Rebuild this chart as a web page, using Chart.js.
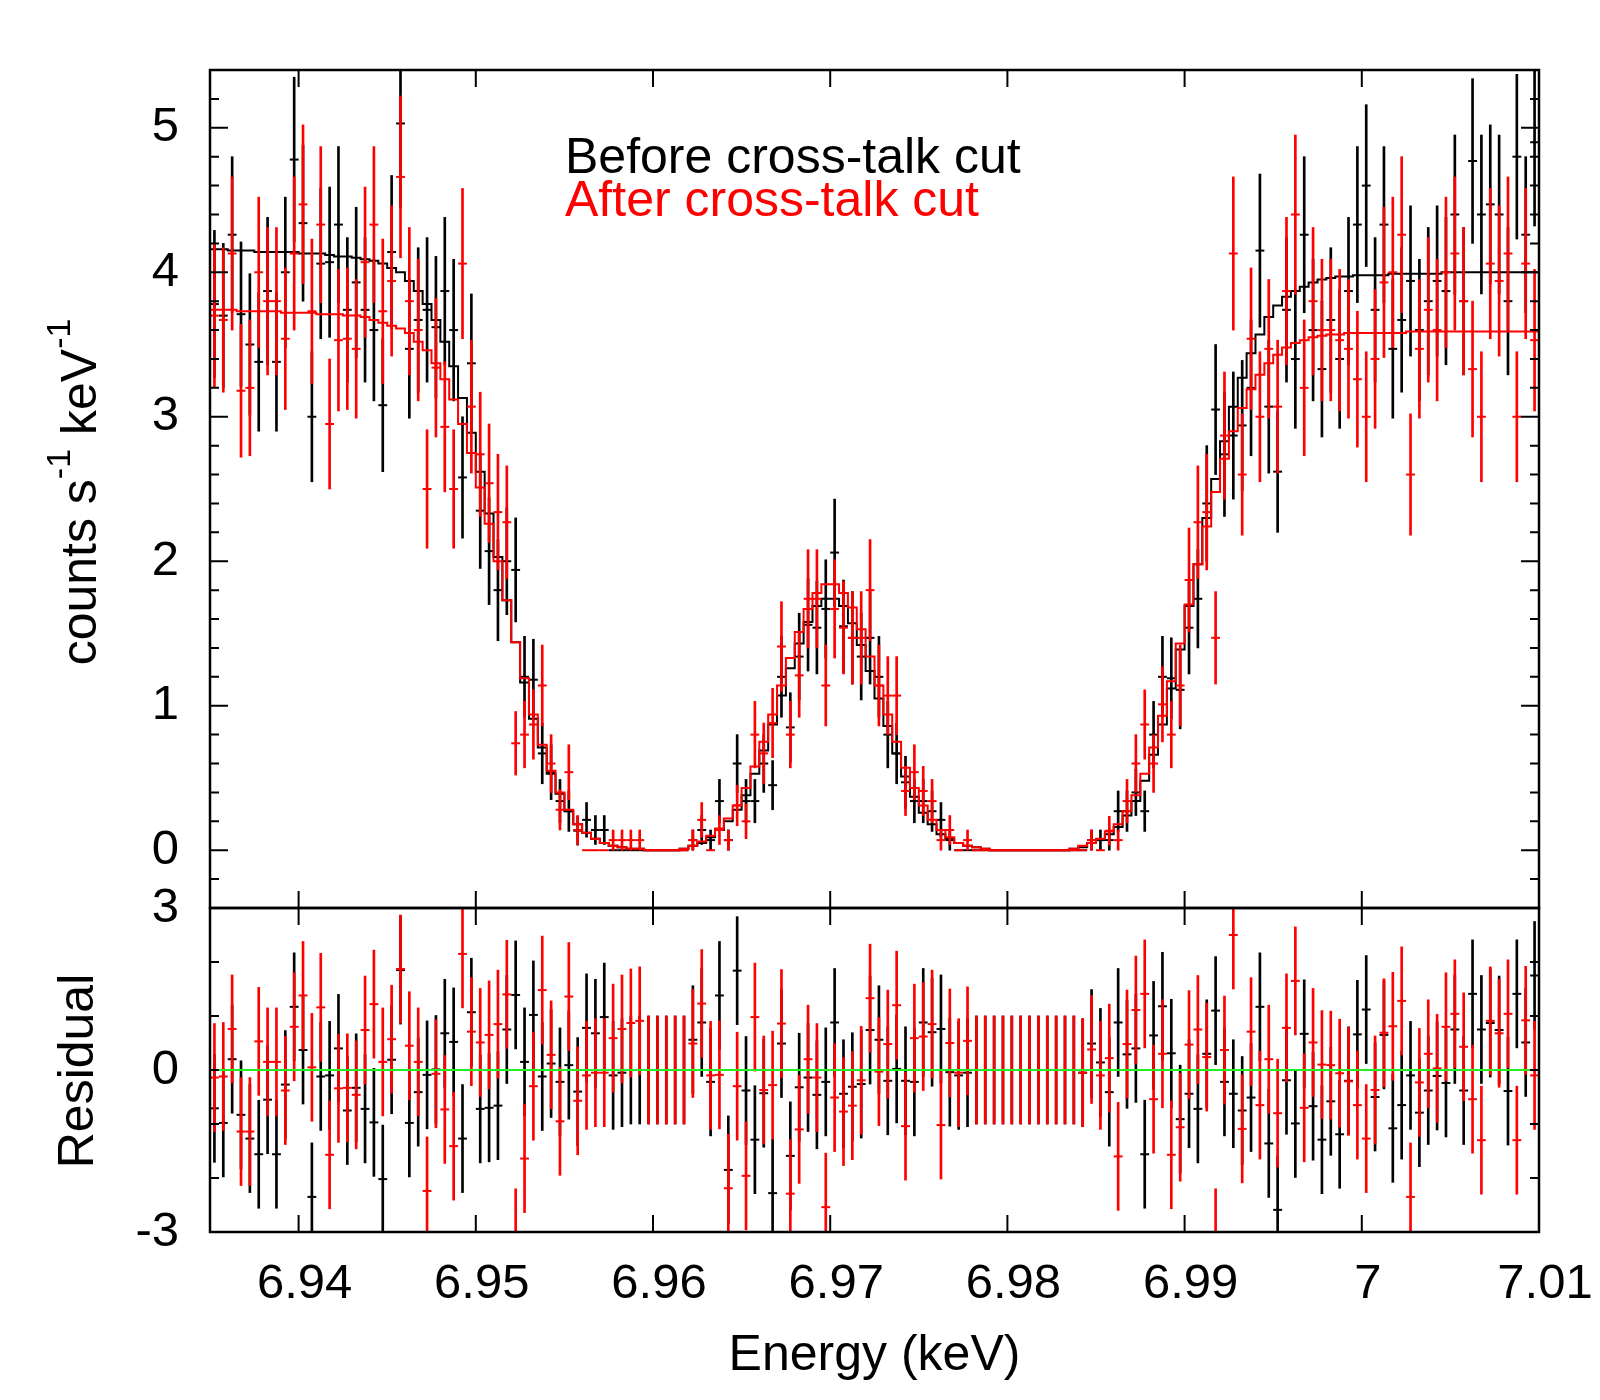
<!DOCTYPE html>
<html>
<head>
<meta charset="utf-8">
<script src="https://cdn.jsdelivr.net/npm/chart.js@4.4.1/dist/chart.umd.min.js"></script>
<style>
  html, body { margin: 0; padding: 0; background: #fff; }
  #wrap { position: relative; width: 1600px; height: 1400px; }
  #wrap canvas { position: absolute; left: 0; top: 0; }
</style>
</head>
<body>
<div id="wrap">
  <canvas id="resid" width="1600" height="1400"></canvas>
  <canvas id="main" width="1600" height="1400"></canvas>
</div>
<script>
// energy grid: 150 bins of 0.5 eV between 6.935 and 7.01 keV
const E_MIN = 6.935, E_MAX = 7.01, BIN_W = 0.0005;

const xTicks = [6.94, 6.95, 6.96, 6.97, 6.98, 6.99, 7.0, 7.01];
const xTickLabels = ["6.94", "6.95", "6.96", "6.97", "6.98", "6.99", "7", "7.01"];
const yMainLabels = [0, 1, 2, 3, 4, 5];
const yResLabels = [-3, 0, 3];

// model (step histogram), counts s-1 keV-1
const modelBefore = [
  4.16, 4.16, 4.15, 4.15, 4.15, 4.14, 4.14, 4.14, 4.14, 4.14,
  4.13, 4.13, 4.13, 4.12, 4.11, 4.11, 4.10, 4.09, 4.08, 4.06,
  4.03, 4.00, 3.94, 3.87, 3.78, 3.67, 3.52, 3.35, 3.13, 2.89,
  2.62, 2.33, 2.03, 1.73, 1.44, 1.16, 0.91, 0.71, 0.53, 0.39,
  0.27, 0.18, 0.12, 0.08, 0.05, 0.03, 0.02, 0.01, 0.01, 0,
  0, 0, 0, 0.01, 0.03, 0.05, 0.09, 0.14, 0.20, 0.28,
  0.38, 0.53, 0.69, 0.87, 1.07, 1.26, 1.43, 1.58, 1.69, 1.74,
  1.74, 1.69, 1.57, 1.42, 1.24, 1.05, 0.86, 0.67, 0.51, 0.37,
  0.26, 0.18, 0.11, 0.08, 0.05, 0.03, 0.02, 0.01, 0, 0,
  0, 0, 0, 0, 0, 0, 0, 0.01, 0.02, 0.05,
  0.07, 0.11, 0.16, 0.24, 0.34, 0.48, 0.66, 0.87, 1.12, 1.39,
  1.69, 1.98, 2.30, 2.57, 2.83, 3.07, 3.27, 3.44, 3.57, 3.69,
  3.77, 3.83, 3.87, 3.90, 3.93, 3.95, 3.96, 3.97, 3.97, 3.98,
  3.98, 3.98, 3.98, 3.99, 3.99, 3.99, 3.99, 3.99, 3.99, 4.00,
  4.00, 4.00, 4.00, 4.00, 4.00, 4.00, 4.00, 4.00, 4.00, 4.00
];
const modelAfter = [
  3.74, 3.74, 3.74, 3.73, 3.73, 3.73, 3.73, 3.73, 3.72, 3.72,
  3.72, 3.72, 3.71, 3.71, 3.71, 3.70, 3.70, 3.69, 3.67, 3.65,
  3.63, 3.61, 3.58, 3.52, 3.46, 3.37, 3.26, 3.12, 2.95, 2.75,
  2.51, 2.26, 2.00, 1.73, 1.44, 1.19, 0.94, 0.73, 0.55, 0.40,
  0.28, 0.18, 0.12, 0.08, 0.05, 0.03, 0.02, 0.01, 0.01, 0,
  0, 0, 0, 0.01, 0.03, 0.06, 0.10, 0.15, 0.22, 0.31,
  0.43, 0.58, 0.75, 0.94, 1.14, 1.33, 1.51, 1.67, 1.78, 1.84,
  1.84, 1.78, 1.68, 1.53, 1.34, 1.14, 0.94, 0.75, 0.57, 0.43,
  0.31, 0.21, 0.14, 0.09, 0.05, 0.03, 0.02, 0.01, 0, 0,
  0, 0, 0, 0, 0, 0, 0, 0.01, 0.03, 0.05,
  0.08, 0.13, 0.18, 0.27, 0.38, 0.53, 0.71, 0.93, 1.17, 1.43,
  1.70, 1.98, 2.24, 2.48, 2.71, 2.90, 3.06, 3.19, 3.29, 3.37,
  3.43, 3.48, 3.51, 3.53, 3.55, 3.56, 3.57, 3.57, 3.58, 3.58,
  3.58, 3.58, 3.58, 3.58, 3.58, 3.59, 3.59, 3.59, 3.59, 3.59,
  3.59, 3.59, 3.59, 3.59, 3.59, 3.59, 3.59, 3.59, 3.59, 3.59
];

// data points
const countsBefore = [
  3.78, 3.70, 4.26, 3.71, 3.50, 3.38, 3.87, 3.38, 4.00, 4.78,
  4.34, 3.00, 4.06, 4.07, 4.33, 3.74, 3.93, 3.74, 3.60, 3.08,
  4.14, 5.03, 3.47, 3.67, 3.74, 3.62, 3.87, 3.60, 2.58, 3.37,
  2.35, 2.07, 1.80, 2.00, 1.94, 1.20, 1.18, 0.67, 0.54, 0.34,
  0.27, 0.135, 0.21, 0.14, 0.14, 0, 0, 0, 0, 0,
  0, 0, 0, 0, 0.07, 0.14, 0.07, 0.34, 0.07, 0.60,
  0.34, 0.34, 0.60, 0.45, 1.20, 0.85, 1.34, 1.56, 1.54, 1.67,
  2.06, 1.55, 1.47, 1.34, 1.47, 1.20, 0.80, 0.67, 0.47, 0.34,
  0.34, 0.27, 0.21, 0.07, 0, 0, 0, 0, 0, 0,
  0, 0, 0, 0, 0, 0, 0, 0, 0, 0.07,
  0.07, 0.07, 0.27, 0.27, 0.40, 0.27, 0.80, 1.20, 1.19, 1.11,
  1.54, 1.74, 2.40, 3.05, 2.74, 2.87, 2.94, 3.20, 4.15, 3.07,
  2.62, 3.74, 3.40, 4.26, 3.60, 3.33, 3.67, 3.40, 3.87, 4.33,
  4.60, 3.74, 4.33, 3.47, 3.67, 3.94, 3.60, 3.80, 3.94, 3.87,
  4.40, 3.80, 4.77, 4.40, 4.47, 4.40, 3.80, 4.80, 4.26, 4.90
];
const countsAfter = [
  3.70, 3.67, 4.13, 3.18, 3.20, 4.00, 3.80, 3.80, 3.54, 4.13,
  4.47, 3.73, 4.33, 2.95, 3.53, 3.54, 3.47, 4.07, 4.33, 3.73,
  3.94, 4.66, 3.80, 3.60, 2.50, 3.34, 2.93, 2.50, 4.06, 3.07,
  2.74, 2.54, 2.34, 2.27, 0.74, 0.80, 0.87, 1.14, 0.60, 0.28,
  0.54, 0.14, 0, 0, 0, 0.07, 0.07, 0.07, 0.07, 0,
  0, 0, 0, 0, 0.07, 0.21, 0, 0.14, 0.07, 0.31,
  0.20, 0.80, 0.67, 0.88, 1.41, 0.80, 1.21, 1.74, 1.74, 1.14,
  1.67, 1.54, 1.47, 1.47, 1.80, 1.14, 1.07, 1.07, 0.41, 0.54,
  0.41, 0.34, 0.07, 0.14, 0, 0.07, 0, 0, 0, 0,
  0, 0, 0, 0, 0, 0, 0, 0, 0, 0.07,
  0, 0.135, 0.07, 0.34, 0.60, 0.87, 0.60, 1.01, 0.80, 1.14,
  1.87, 2.27, 2.34, 1.47, 2.87, 4.13, 2.60, 3.54, 3.00, 3.47,
  3.07, 3.87, 4.40, 3.20, 3.80, 3.60, 3.60, 3.53, 3.47, 3.26,
  3.00, 3.40, 3.93, 4.00, 4.26, 2.60, 3.47, 3.74, 3.60, 4.00,
  4.13, 3.80, 3.33, 3.00, 4.06, 3.94, 4.13, 3.00, 4.06, 3.53
];

// 1-sigma error bars
const errBefore = [
  0.51, 0.50, 0.54, 0.50, 0.49, 0.48, 0.51, 0.48, 0.52, 0.57,
  0.54, 0.45, 0.52, 0.52, 0.54, 0.50, 0.52, 0.50, 0.49, 0.46,
  0.53, 0.58, 0.48, 0.50, 0.50, 0.49, 0.51, 0.49, 0.42, 0.48,
  0.40, 0.37, 0.35, 0.37, 0.36, 0.28, 0.28, 0.21, 0.19, 0.15,
  0.14, 0.10, 0.12, 0.10, 0.10, 0, 0, 0, 0, 0,
  0, 0, 0, 0, 0.07, 0.10, 0.07, 0.15, 0.07, 0.20,
  0.15, 0.15, 0.20, 0.17, 0.28, 0.24, 0.30, 0.32, 0.32, 0.34,
  0.37, 0.32, 0.32, 0.30, 0.32, 0.28, 0.23, 0.21, 0.18, 0.15,
  0.15, 0.14, 0.12, 0.07, 0, 0, 0, 0, 0, 0,
  0, 0, 0, 0, 0, 0, 0, 0, 0, 0.07,
  0.07, 0.07, 0.14, 0.14, 0.16, 0.14, 0.23, 0.28, 0.28, 0.27,
  0.32, 0.34, 0.40, 0.45, 0.43, 0.44, 0.45, 0.47, 0.53, 0.46,
  0.42, 0.50, 0.48, 0.54, 0.49, 0.47, 0.50, 0.48, 0.51, 0.54,
  0.56, 0.50, 0.54, 0.48, 0.50, 0.52, 0.49, 0.51, 0.52, 0.51,
  0.55, 0.51, 0.57, 0.55, 0.55, 0.55, 0.51, 0.57, 0.54, 0.58
];
const errAfter = [
  0.50, 0.50, 0.53, 0.46, 0.47, 0.52, 0.51, 0.51, 0.49, 0.53,
  0.55, 0.50, 0.54, 0.45, 0.49, 0.49, 0.48, 0.52, 0.54, 0.50,
  0.52, 0.56, 0.51, 0.49, 0.41, 0.48, 0.45, 0.41, 0.52, 0.46,
  0.43, 0.41, 0.40, 0.39, 0.22, 0.23, 0.24, 0.28, 0.20, 0.14,
  0.19, 0.10, 0, 0, 0, 0.07, 0.07, 0.07, 0.07, 0,
  0, 0, 0, 0, 0.07, 0.12, 0, 0.10, 0.07, 0.14,
  0.12, 0.23, 0.21, 0.24, 0.31, 0.23, 0.29, 0.34, 0.34, 0.28,
  0.34, 0.32, 0.32, 0.32, 0.35, 0.28, 0.27, 0.27, 0.17, 0.19,
  0.17, 0.15, 0.07, 0.10, 0, 0.07, 0, 0, 0, 0,
  0, 0, 0, 0, 0, 0, 0, 0, 0, 0.07,
  0, 0.10, 0.07, 0.15, 0.20, 0.24, 0.20, 0.26, 0.23, 0.28,
  0.36, 0.39, 0.40, 0.32, 0.44, 0.53, 0.42, 0.49, 0.45, 0.48,
  0.46, 0.51, 0.55, 0.47, 0.51, 0.49, 0.49, 0.49, 0.48, 0.47,
  0.45, 0.48, 0.52, 0.52, 0.54, 0.42, 0.48, 0.50, 0.49, 0.52,
  0.53, 0.51, 0.47, 0.45, 0.52, 0.52, 0.53, 0.45, 0.52, 0.49
];

// residuals in sigma units, each with a +-1 bar
const residBefore = [
  -0.71, -0.98, 0.20, -0.83, -1.27, -1.56, -0.55, -1.56, -0.27, 1.17,
  0.37, -2.35, -0.12, -0.10, 0.40, -0.75, -0.33, -0.72, -0.97, -2.02,
  0.19, 1.85, -0.98, -0.41, -0.09, 0.01, 0.68, 0.52, -1.27, 1.07,
  -0.72, -0.70, -0.66, 0.75, 1.39, 0.15, 1.02, -0.12, 0.12, -0.22,
  0.09, -0.40, 0.78, 0.68, 0.98, -0.10, -0.05, 0, 0, 0,
  0, 0, 0, 0, 0.56, 0.88, -0.22, 1.38, -1.85, 1.84,
  -0.38, -1.29, -0.43, -2.28, 0.49, -1.59, -0.32, -0.14, -0.46, -0.22,
  0.88, -0.44, -0.31, -0.26, 0.74, 0.56, -0.20, 0.02, -0.20, -0.22,
  0.88, 0.70, 0.76, -0.04, -0.10, -0.05, 0, 0, 0, 0,
  0, 0, 0, 0, 0, 0, 0, 0, -0.05, 0.49,
  0.14, -0.41, 0.88, 0.29, 0.40, -1.56, 0.64, 1.18, 0.31, -0.91,
  -0.44, -0.72, 0.30, 1.10, -0.22, -0.44, -0.75, -0.51, 1.17, -1.36,
  -2.59, -0.19, -0.99, 0.67, -0.67, -1.29, -0.58, -1.19, -0.20, 0.66,
  1.12, -0.50, 0.65, -1.08, -0.65, -0.10, -0.79, -0.38, -0.11, -0.24,
  0.75, -0.38, 1.41, 0.75, 0.87, 0.74, -0.39, 1.41, 0.51, 1.75
];
const residAfter = [
  -0.14, -0.12, 0.76, -1.14, -1.14, 0.53, 0.15, 0.15, -0.38, 0.80,
  1.38, 0.05, 1.16, -1.57, -0.34, -0.33, -0.46, 0.74, 1.22, 0.15,
  0.57, 1.87, 0.45, 0.15, -2.24, -0.07, -0.73, -1.41, 2.15, 0.71,
  0.51, 0.65, 0.85, 1.40, -3.20, -1.64, -0.30, 1.48, 0.28, -0.95,
  1.36, -0.57, -0.10, -0.05, -0.05, 0.59, 0.76, 0.87, 0.91, 0,
  0, 0, 0, 0, 0.49, 1.23, -0.10, -0.09, -2.19, -0.30,
  -1.96, 0.98, -0.37, -0.28, 0.86, -2.29, -1.10, 0.20, -0.14, -2.54,
  -0.51, -0.77, -0.66, -0.19, 1.33, -0.03, 0.48, 1.20, -1.04, 0.59,
  0.62, 0.85, -1.02, 0.50, -0.05, 0.54, 0, 0, 0, 0,
  0, 0, 0, 0, 0, 0, 0, 0, -0.05, 0.38,
  -0.10, 0.22, -1.60, 0.48, 1.11, 1.41, -0.54, 0.30, -1.57, -1.06,
  0.47, 0.75, 0.24, -3.20, 0.37, 2.50, -1.09, 0.71, -0.65, 0.20,
  -0.80, 0.78, 1.65, -0.70, 0.51, 0.10, 0.09, -0.06, -0.21, -0.65,
  -1.27, -0.37, 0.69, 0.81, 1.28, -2.35, -0.23, 0.30, 0.03, 0.80,
  1.04, 0.43, -0.54, -1.30, 0.91, 0.68, 1.04, -1.30, 0.92, -0.10
];
const RES_ERR = 1;

const FONT = '"Liberation Sans", Arial, Helvetica, sans-serif';
const FS = 49;        // tick labels
const FS_TITLE = 50;  // axis titles and legend
const BLACK = "#000000", RED = "#ff0000", GREEN = "#22ee22";

Chart.defaults.font.family = FONT;
Chart.defaults.font.size = FS;
Chart.defaults.color = "#000";

const energy = modelBefore.map((_, i) => +(E_MIN + BIN_W * (i + 0.5)).toFixed(5));
const half = BIN_W / 2;

const points = vals => vals.map((v, i) => ({ x: energy[i], y: v }));
const errBars = (vals, errs) => vals
  .map((v, i) => ({ x: energy[i], y: [v - errs[i], v + errs[i]], e: errs[i] }))
  .filter(p => p.e > 0);
const steps = vals => vals.flatMap((v, i) => [{ x: energy[i] - half, y: v }, { x: energy[i] + half, y: v }]);

function barSet(data, color, order) {
  return { type: "bar", data, backgroundColor: color, borderWidth: 0, barThickness: 2,
           grouped: false, order, clip: 0 };
}
function tickSet(data, color, order) {
  return { type: "scatter", data, pointStyle: "line", pointRadius: 4.43, pointBorderWidth: 2,
           pointBorderColor: color, pointBackgroundColor: color, showLine: false, order, clip: 0 };
}
function stepSet(data, color, order) {
  return { type: "line", data, borderColor: color, borderWidth: 2, pointRadius: 0,
           fill: false, tension: 0, order, clip: 0 };
}

const isInt = v => Math.abs(v - Math.round(v)) < 1e-6;

// inward tick marks on all four sides + frame
const frameTicks = {
  id: "frameTicks",
  afterDatasetsDraw(chart, args, o) {
    const { ctx, chartArea: a, scales } = chart;
    const x = scales.x, y = scales.y;
    ctx.save();
    ctx.strokeStyle = "#000";
    ctx.lineWidth = 2;
    ctx.beginPath();
    xTicks.forEach(v => {
      const px = x.getPixelForValue(v);
      ctx.moveTo(px, a.top); ctx.lineTo(px, a.top + o.xLen);
      ctx.moveTo(px, a.bottom); ctx.lineTo(px, a.bottom - o.xLen);
    });
    y.ticks.forEach(t => {
      const py = y.getPixelForValue(t.value);
      const len = isInt(t.value) ? o.yMajor : o.yMinor;
      ctx.moveTo(a.left, py); ctx.lineTo(a.left + len, py);
      ctx.moveTo(a.right, py); ctx.lineTo(a.right - len, py);
    });
    ctx.stroke();
    ctx.lineWidth = 2.5;
    ctx.strokeRect(a.left, a.top, a.right - a.left, a.bottom - a.top);
    ctx.restore();
  }
};

// rotated y title with superscripts, and free text (legend)
const textBits = {
  id: "textBits",
  afterDraw(chart, args, o) {
    const { ctx } = chart;
    ctx.save();
    ctx.fillStyle = "#000";
    ctx.textBaseline = "alphabetic";
    const big = `${FS_TITLE}px ${FONT}`, small = `${o.supSize}px ${FONT}`;
    const parts = o.yTitle.map(p => {
      ctx.font = p.sup ? small : big;
      return { text: p.text, sup: p.sup, w: ctx.measureText(p.text).width };
    });
    const total = parts.reduce((s, p) => s + p.w, 0);
    ctx.translate(o.yTitleX, o.yTitleY);
    ctx.rotate(-Math.PI / 2);
    let cx = -total / 2;
    parts.forEach(p => {
      ctx.font = p.sup ? small : big;
      ctx.fillText(p.text, cx, p.sup ? -o.supRaise : 0);
      cx += p.w;
    });
    ctx.setTransform(1, 0, 0, 1, 0, 0);
    ctx.font = big;
    (o.notes || []).forEach(n => {
      ctx.fillStyle = n.color;
      ctx.fillText(n.text, n.x, n.y);
    });
    ctx.restore();
  }
};

const setXTicks = s => { s.ticks = xTicks.map(v => ({ value: v })); };

// ---------- main panel ----------
new Chart(document.getElementById("main"), {
  type: "scatter",
  data: {
    datasets: [
      barSet(errBars(countsBefore, errBefore), BLACK, 6),
      tickSet(points(countsBefore), BLACK, 5),
      stepSet(steps(modelBefore), BLACK, 4),
      barSet(errBars(countsAfter, errAfter), RED, 3),
      tickSet(points(countsAfter), RED, 2),
      stepSet(steps(modelAfter), RED, 1)
    ]
  },
  options: {
    responsive: false,
    animation: false,
    events: [],
    layout: { padding: { top: 70, bottom: 492, left: 0, right: 61 } },
    plugins: {
      legend: { display: false },
      tooltip: { enabled: false },
      frameTicks: { xLen: 17, yMajor: 18, yMinor: 9 },
      textBits: {
        yTitle: [{ text: "counts s" }, { text: "-1", sup: true }, { text: " keV" }, { text: "-1", sup: true }],
        yTitleX: 96, yTitleY: 492, supSize: 34, supRaise: 26,
        notes: [
          { text: "Before cross-talk cut", x: 565, y: 173, color: BLACK },
          { text: "After cross-talk cut", x: 565, y: 216, color: RED }
        ]
      }
    },
    scales: {
      x: {
        type: "linear", min: E_MIN, max: E_MAX, offset: false,
        afterBuildTicks: setXTicks,
        ticks: { display: false },
        grid: { display: false, drawTicks: false },
        border: { display: false },
        afterFit: s => { s.height = 0; s.paddingLeft = 0; s.paddingRight = 0; }
      },
      y: {
        type: "linear", min: -0.4, max: 5.4,
        ticks: {
          stepSize: 0.2, padding: 31, autoSkip: false,
          callback: v => yMainLabels.some(l => Math.abs(l - v) < 1e-6) ? String(Math.round(v)) : ""
        },
        grid: { display: false, drawTicks: false },
        border: { display: false },
        afterFit: s => { s.width = 210; s.paddingTop = 0; s.paddingBottom = 0; }
      }
    }
  },
  plugins: [frameTicks, textBits]
});

// ---------- residual panel ----------
const resBars = vals => vals.map((v, i) => ({ x: energy[i], y: [v - RES_ERR, v + RES_ERR] }));

new Chart(document.getElementById("resid"), {
  type: "scatter",
  data: {
    datasets: [
      barSet(resBars(residBefore), BLACK, 5),
      tickSet(points(residBefore), BLACK, 4),
      barSet(resBars(residAfter), RED, 3),
      tickSet(points(residAfter), RED, 2),
      stepSet([{ x: E_MIN, y: 0 }, { x: E_MAX, y: 0 }], GREEN, 0)
    ]
  },
  options: {
    responsive: false,
    animation: false,
    events: [],
    layout: { padding: { top: 908, bottom: 0, left: 0, right: 61 } },
    plugins: {
      legend: { display: false },
      tooltip: { enabled: false },
      frameTicks: { xLen: 17, yMajor: 9, yMinor: 9 },
      textBits: {
        yTitle: [{ text: "Residual" }],
        yTitleX: 93, yTitleY: 1071, supSize: 34, supRaise: 26
      }
    },
    scales: {
      x: {
        type: "linear", min: E_MIN, max: E_MAX, offset: false,
        afterBuildTicks: setXTicks,
        ticks: {
          autoSkip: false, maxRotation: 0, padding: 23, labelOffset: 6,
          callback: (v, i) => xTickLabels[i]
        },
        grid: { display: false, drawTicks: false },
        border: { display: false },
        title: { display: true, text: "Energy (keV)", font: { size: FS_TITLE }, padding: { top: 0, bottom: 14 } },
        afterFit: s => { s.height = 168; s.paddingLeft = 0; s.paddingRight = 0; }
      },
      y: {
        type: "linear", min: -3, max: 3,
        ticks: {
          stepSize: 1, padding: 31, autoSkip: false,
          callback: v => yResLabels.includes(Math.round(v)) && isInt(v) ? String(Math.round(v)) : ""
        },
        grid: { display: false, drawTicks: false },
        border: { display: false },
        afterFit: s => { s.width = 210; s.paddingTop = 0; s.paddingBottom = 0; }
      }
    }
  },
  plugins: [frameTicks, textBits]
});
</script>
</body>
</html>
